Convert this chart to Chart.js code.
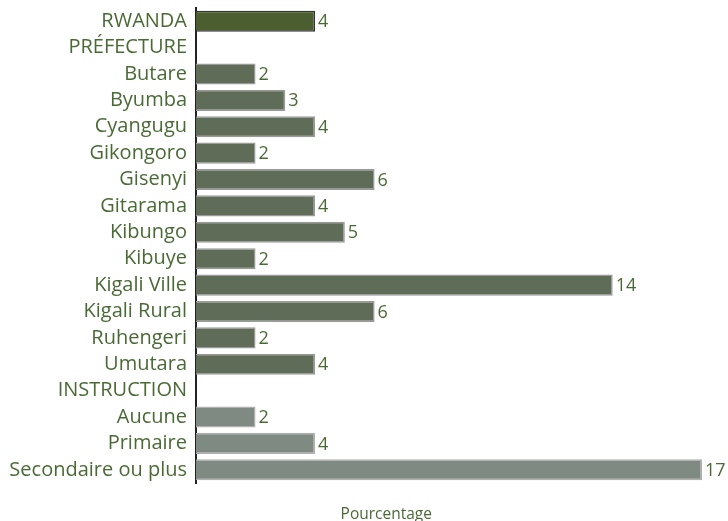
<!DOCTYPE html>
<html>
<head>
<meta charset="utf-8">
<script src="https://cdn.jsdelivr.net/npm/chart.js@4/dist/chart.umd.min.js"></script>
<style>
html,body{margin:0;padding:0;background:#fff;}
#wrap{width:728px;height:521px;}
</style>
</head>
<body>
<div id="wrap"><canvas id="c" width="728" height="521"></canvas></div>
<script>
const categories = ["RWANDA","PRÉFECTURE","Butare","Byumba","Cyangugu","Gikongoro","Gisenyi","Gitarama","Kibungo","Kibuye","Kigali Ville","Kigali Rural","Ruhengeri","Umutara","INSTRUCTION","Aucune","Primaire","Secondaire ou plus"];
const values = [4,null,2,3,4,2,6,4,5,2,14,6,2,4,null,2,4,17];
const groups = ["total","header","pref","pref","pref","pref","pref","pref","pref","pref","pref","pref","pref","pref","header","instr","instr","instr"];
const axisTitle = "Pourcentage";

const fillFor = {total:"#4a5e2f", pref:"#5e6c58", instr:"#7f8a82", header:"rgba(0,0,0,0)"};
const borderFor = {total:"#333333", pref:"#9a9a9a", instr:"#b0b0b0", header:"rgba(0,0,0,0)"};
const textColor = "#4a6a35";

const valueLabels = {
  id:"valueLabels",
  afterDatasetsDraw(chart){
    const ctx = chart.ctx;
    const meta = chart.getDatasetMeta(0);
    ctx.save();
    ctx.font = "18px 'Open Sans'";
    ctx.fillStyle = textColor;
    ctx.textAlign = "left";
    ctx.textBaseline = "middle";
    meta.data.forEach((bar,i)=>{
      const v = values[i];
      if(v===null) return;
      ctx.fillText(String(v), bar.x + 3, bar.y + 1);
    });
    ctx.restore();
  }
};
const bottomTitle = {
  id:"bottomTitle",
  afterDraw(chart){
    const ctx = chart.ctx;
    const a = chart.chartArea;
    ctx.save();
    ctx.font = "15.5px 'Open Sans'";
    ctx.fillStyle = textColor;
    ctx.textAlign = "center";
    ctx.textBaseline = "alphabetic";
    ctx.fillText(axisTitle, a.left + (a.right - a.left)*0.376, chart.height - 2);
    ctx.restore();
  }
};

new Chart(document.getElementById("c"), {
  type:"bar",
  data:{
    labels:categories,
    datasets:[{
      data:values,
      backgroundColor:groups.map(g=>fillFor[g]),
      borderColor:groups.map(g=>borderFor[g]),
      borderWidth:1.5,
      categoryPercentage:1,
      barPercentage:0.8
    }]
  },
  options:{
    indexAxis:"y",
    responsive:false,
    animation:false,
    layout:{padding:{top:8,right:26,bottom:38,left:0}},
    plugins:{legend:{display:false},tooltip:{enabled:false}},
    scales:{
      x:{display:false,min:0,max:17},
      y:{
        grid:{display:false,drawTicks:false},
        border:{display:true,color:"#222",width:2},
        ticks:{color:textColor,font:{family:"'Open Sans'",size:20},padding:9,autoSkip:false},
        afterFit(scale){scale.width=196;scale.paddingTop=0;scale.paddingBottom=0;}
      }
    }
  },
  plugins:[valueLabels,bottomTitle]
});
</script>
</body>
</html>
